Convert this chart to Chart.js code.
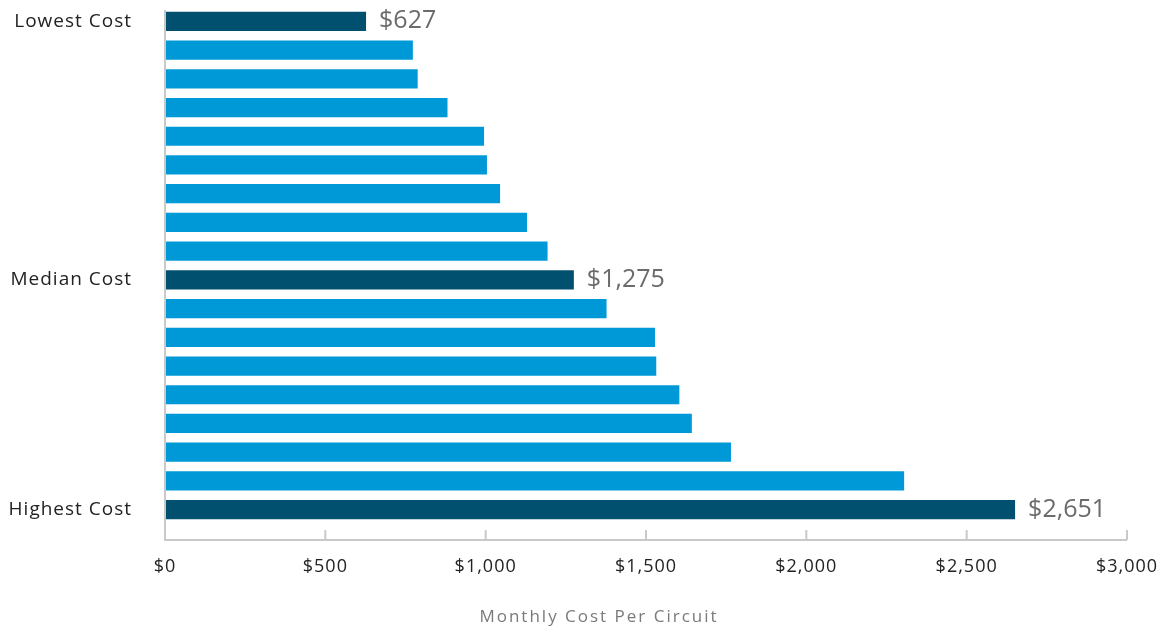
<!DOCTYPE html>
<html>
<head>
<meta charset="utf-8">
<script src="https://cdn.jsdelivr.net/npm/chart.js@4/dist/chart.umd.min.js"></script>
<style>
html,body{margin:0;padding:0;background:#fff;}
#wrap{width:1167px;height:630px;position:relative;}
</style>
</head>
<body>
<div id="wrap"><canvas id="c"></canvas></div>
<script>
const categories = ["Lowest Cost","","","","","","","","","Median Cost","","","","","","","","Highest Cost"];
const costs = [627, 773, 788, 881, 995, 1004, 1045, 1129, 1193, 1275, 1377, 1528, 1532, 1604, 1643, 1765, 2305, 2651];
const highlighted = [0, 9, 17];
const xTicks = [0, 500, 1000, 1500, 2000, 2500, 3000];
const xTitle = "Monthly Cost Per Circuit";

const DARK = "#02506f";
const LIGHT = "#0099d7";
const FONT = "'Open Sans', 'Noto Sans', sans-serif";

const fmt = v => "$" + v.toLocaleString("en-US");

const axisPlugin = {
  id: "axisDecor",
  beforeDraw(chart) {
    chart.ctx.letterSpacing = "1px";
  },
  afterDraw(chart) {
    const ctx = chart.ctx;
    const xs = chart.scales.x;
    const area = chart.chartArea;
    const x0 = xs.getPixelForValue(0);
    const xEnd = xs.getPixelForValue(3000);
    const yAxis = area.bottom + 16;
    ctx.save();
    ctx.letterSpacing = "0px";
    ctx.strokeStyle = "#c9c9c9";
    ctx.lineWidth = 2;
    ctx.beginPath();
    ctx.moveTo(x0, area.top + 3);
    ctx.lineTo(x0, yAxis);
    ctx.lineTo(xEnd, yAxis);
    ctx.stroke();
    xTicks.forEach(v => {
      const px = xs.getPixelForValue(v);
      ctx.beginPath();
      ctx.moveTo(px, yAxis);
      ctx.lineTo(px, yAxis - 10);
      ctx.stroke();
    });
    // value labels for highlighted bars
    const meta = chart.getDatasetMeta(0);
    ctx.fillStyle = "#6b6b6b";
    ctx.font = "25px " + FONT;
    ctx.textAlign = "left";
    ctx.textBaseline = "middle";
    highlighted.forEach(i => {
      const el = meta.data[i];
      ctx.fillText(fmt(costs[i]), el.x + 13, el.y);
    });
    // axis title
    ctx.letterSpacing = "2px";
    ctx.fillStyle = "#7a7a7a";
    ctx.font = "17px " + FONT;
    ctx.textAlign = "center";
    ctx.fillText(xTitle, 599, 617);
    ctx.restore();
  }
};

new Chart(document.getElementById("c"), {
  type: "bar",
  data: {
    labels: categories,
    datasets: [{
      data: costs,
      backgroundColor: costs.map((v, i) => highlighted.includes(i) ? DARK : LIGHT),
      borderWidth: 0,
      barPercentage: 0.67,
      categoryPercentage: 1.0
    }]
  },
  options: {
    indexAxis: "y",
    responsive: true,
    maintainAspectRatio: false,
    animation: false,
    devicePixelRatio: 1,
    layout: { padding: { top: 7, right: 40, left: 0, bottom: 0 } },
    plugins: { legend: { display: false }, tooltip: { enabled: false } },
    scales: {
      x: {
        min: 0, max: 3000,
        afterBuildTicks(s) { s.ticks = xTicks.map(v => ({ value: v })); },
        afterFit(s) { s.height = 106; s.paddingLeft = 0; s.paddingRight = 0; },
        grid: { display: false, drawTicks: false },
        border: { display: false },
        ticks: {
          callback: v => fmt(v),
          color: "#222",
          font: { family: FONT, size: 18 },
          padding: 32,
          maxRotation: 0,
          autoSkip: false
        }
      },
      y: {
        afterFit(s) { s.width = 165; s.paddingTop = 0; s.paddingBottom = 0; },
        grid: { display: false, drawTicks: false },
        border: { display: false },
        ticks: {
          color: "#222",
          font: { family: FONT, size: 19 },
          padding: 33,
          autoSkip: false
        }
      }
    }
  },
  plugins: [axisPlugin]
});
</script>
</body>
</html>
